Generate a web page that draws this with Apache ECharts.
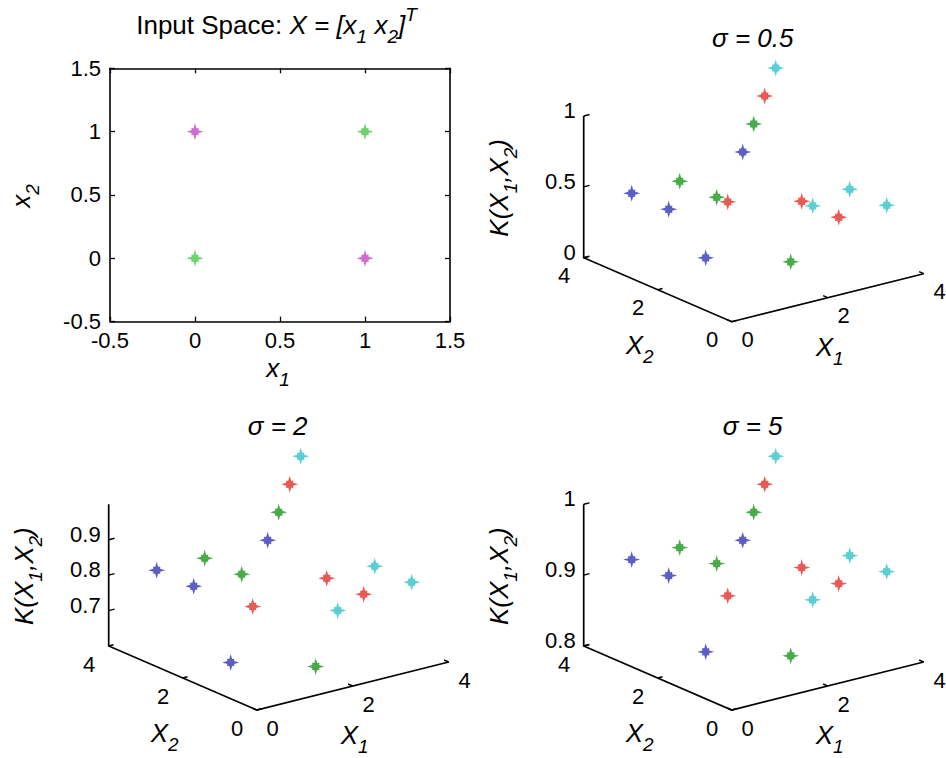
<!DOCTYPE html>
<html>
<head>
<meta charset="utf-8">
<script src="https://cdn.jsdelivr.net/npm/echarts@6/dist/echarts.min.js"></script>
<style>
html,body{margin:0;padding:0;background:#fff;}
#c{width:946px;height:758px;}
</style>
</head>
<body>
<div id="c"></div>
<script>
// ================= DATA =================
// Input space (XOR pattern)
const inputX1 = [0, 1, 0, 1];
const inputX2 = [0, 1, 1, 0];
const inputClass = ['A', 'A', 'B', 'B'];

// Kernel matrix plots: point (i, j, K[i][j]); colour by row i
const kernelX1 = [1, 2, 3, 4];
const kernelX2 = [1, 2, 3, 4];
const kSigma05 = [
  [1.00, 0.14, 0.37, 0.37],
  [0.14, 1.00, 0.37, 0.37],
  [0.37, 0.37, 1.00, 0.14],
  [0.37, 0.37, 0.14, 1.00]
];
const kSigma2 = [
  [1.00, 0.61, 0.78, 0.78],
  [0.61, 1.00, 0.78, 0.78],
  [0.78, 0.78, 1.00, 0.61],
  [0.78, 0.78, 0.61, 1.00]
];
const kSigma5 = [
  [1.00, 0.82, 0.905, 0.905],
  [0.82, 1.00, 0.905, 0.905],
  [0.905, 0.905, 1.00, 0.82],
  [0.905, 0.905, 0.82, 1.00]
];
const sigmaLabels = ['0.5', '2', '5'];
const zLim05 = [0, 1], zLim2 = [0.6, 1], zLim5 = [0.8, 1];
const zTicks05 = [0, 0.5, 1], zTicks2 = [0.7, 0.8, 0.9], zTicks5 = [0.8, 0.9, 1];
const floorLim = [0, 4];
const floorTicks = [0, 2, 4];

// ================= STYLE / LAYOUT =================
const FONT = 'Liberation Sans';
const TICK_FS = 22, LABEL_FS = 26;
const ROW_COLORS = ['#3436b6', '#1a961c', '#e6302a', '#30c2c8'];
const CLASS_COLORS = { A: '#48c848', B: '#c248c2' };
const VIEW = { e1: [192, 48], e2: [-148, 64], ez: 141.7 }; // orthographic view basis (px)
const CORNERS = [[731.7, 321.7], [256.7, 710], [731.7, 710]];
const UBOX = [-160, 200], VBOX = [0, 260];
const SUB_DY = 0.44, SUP_DY = -0.40;

const panels = [
  { sigma: sigmaLabels[0], K: kSigma05, zLim: zLim05, zTicks: zTicks05 },
  { sigma: sigmaLabels[1], K: kSigma2, zLim: zLim2, zTicks: zTicks2 },
  { sigma: sigmaLabels[2], K: kSigma5, zLim: zLim5, zTicks: zTicks5 }
];

function starPath() {
  const pts = [];
  for (let k = 0; k < 16; k++) {
    const ang = k * Math.PI / 8 - Math.PI / 2;
    const r = (k % 4 === 0) ? 10 : (k % 4 === 2 ? 6.0 : 4.4);
    pts.push((r * Math.cos(ang)).toFixed(2) + ',' + (r * Math.sin(ang)).toFixed(2));
  }
  return 'path://M' + pts.join(' L') + ' Z';
}
const STAR = starPath();
const SYM = 17;

const measureCtx = document.createElement('canvas').getContext('2d');
function mathLabel(segs, cx, cy, rot, M) {
  M = M || LABEL_FS;
  const S = Math.round(M * 0.72);
  let x = 0;
  const kids = segs.map(function (sg) {
    const t = sg[0], kind = sg[1];
    const isSub = kind === 's', isSup = kind === 'p';
    const size = (isSub || isSup) ? S : M;
    const italic = kind !== 'n';
    measureCtx.font = (italic ? 'italic ' : '') + size + 'px "' + FONT + '"';
    const w = measureCtx.measureText(t).width;
    const el = {
      type: 'text', x: x, y: isSub ? SUB_DY * M : (isSup ? SUP_DY * M : 0),
      style: {
        text: t, fontSize: size, fontFamily: FONT, fontStyle: italic ? 'italic' : 'normal',
        fill: '#000', align: 'left', textAlign: 'left', verticalAlign: 'middle', textVerticalAlign: 'middle'
      }
    };
    x += w;
    return el;
  });
  kids.forEach(function (k) { k.x -= x / 2; });
  return { type: 'group', x: cx, y: cy, rotation: rot || 0, silent: true, children: kids };
}

function plainText(t, x, y, align) {
  return {
    type: 'text', x: x, y: y, silent: true,
    style: {
      text: t, fontSize: TICK_FS, fontFamily: FONT, fill: '#000',
      align: align || 'center', textAlign: align || 'center',
      verticalAlign: 'middle', textVerticalAlign: 'middle'
    }
  };
}

function project(p, x1, x2, k) {
  const a = (x1 - floorLim[0]) / (floorLim[1] - floorLim[0]);
  const b = (x2 - floorLim[0]) / (floorLim[1] - floorLim[0]);
  const c = (k - p.zLim[0]) / (p.zLim[1] - p.zLim[0]);
  return [a * VIEW.e1[0] + b * VIEW.e2[0], a * VIEW.e1[1] + b * VIEW.e2[1] + c * VIEW.ez];
}

function unitScreen(v) {
  const L = Math.hypot(v[0], v[1]);
  return [v[0] / L, -v[1] / L];
}
const D1 = unitScreen(VIEW.e1), D2 = unitScreen(VIEW.e2);

function frameRenderer(p) {
  return function (params, api) {
    const P = function (x1, x2, k) { return api.coord(project(p, x1, x2, k)); };
    const z0 = p.zLim[0], z1 = p.zLim[1];
    const lo = floorLim[0], hi = floorLim[1];
    const kids = [];
    const line = function (pts, w) {
      kids.push({ type: 'polyline', shape: { points: pts }, style: { stroke: '#000', lineWidth: w || 1.7, fill: null } });
    };
    line([P(lo, hi, z1), P(lo, hi, z0), P(lo, lo, z0), P(hi, lo, z0)]);
    p.zTicks.forEach(function (t) {
      const a = P(lo, hi, t);
      line([a, [a[0] + D1[0] * 6, a[1] + D1[1] * 6]], 1.4);
      kids.push(plainText(String(t), a[0] - 8, a[1] - 5.5, 'right'));
    });
    floorTicks.forEach(function (t) {
      const a = P(t, lo, z0);
      line([a, [a[0] + D2[0] * 5, a[1] + D2[1] * 5]], 1.4);
      kids.push(plainText(String(t), a[0] + 16, a[1] + 18));
      const b = P(lo, t, z0);
      line([b, [b[0] + D1[0] * 5, b[1] + D1[1] * 5]], 1.4);
      kids.push(plainText(String(t), b[0] - 19.5, b[1] + 18));
    });
    const mid = (lo + hi) / 2;
    const m1 = P(mid, lo, z0), m2 = P(lo, mid, z0);
    kids.push(mathLabel([['X', 'i'], ['1', 's']], m1[0] + 2, m1[1] + 49));
    kids.push(mathLabel([['X', 'i'], ['2', 's']], m2[0] - 18, m2[1] + 55));
    const zm = P(lo, hi, (z0 + z1) / 2);
    kids.push(mathLabel([['K(X', 'i'], ['1', 's'], [',X', 'i'], ['2', 's'], [')', 'i']], zm[0] - 85, zm[1] + 1, Math.PI / 2));
    const o = P(lo, lo, z0);
    kids.push(mathLabel([['σ = ' + p.sigma, 'i']], o[0] + 21, o[1] - 284));
    return { type: 'group', children: kids };
  };
}

// ================= OPTION =================
const grids = [{ left: 110, top: 68.3, width: 340, height: 253.3 }];
CORNERS.forEach(function (c) {
  grids.push({ left: c[0] + UBOX[0], top: c[1] - VBOX[1], width: UBOX[1] - UBOX[0], height: VBOX[1] - VBOX[0] });
});

const axStyle = { onZero: false, lineStyle: { color: '#000', width: 1.6 } };
const tickStyle = { inside: true, length: 5, lineStyle: { color: '#000', width: 1.3 } };
const labStyle = { color: '#000', fontSize: TICK_FS, fontFamily: FONT, margin: 8, showMinLabel: true, showMaxLabel: true };

const xAxes = [
  { gridIndex: 0, type: 'value', min: -0.5, max: 1.5, interval: 0.5, position: 'bottom',
    axisLine: axStyle, axisTick: tickStyle, axisLabel: labStyle, splitLine: { show: false } },
  { gridIndex: 0, type: 'value', min: -0.5, max: 1.5, interval: 0.5, position: 'top',
    axisLine: axStyle, axisTick: tickStyle, axisLabel: { show: false }, splitLine: { show: false } }
];
const yAxes = [
  { gridIndex: 0, type: 'value', min: -0.5, max: 1.5, interval: 0.5, position: 'left',
    axisLine: axStyle, axisTick: tickStyle, axisLabel: Object.assign({}, labStyle, { margin: 9 }), splitLine: { show: false } },
  { gridIndex: 0, type: 'value', min: -0.5, max: 1.5, interval: 0.5, position: 'right',
    axisLine: axStyle, axisTick: tickStyle, axisLabel: { show: false }, splitLine: { show: false } }
];
const series = [{
  type: 'scatter', xAxisIndex: 0, yAxisIndex: 0, symbol: STAR, symbolSize: SYM, silent: true, z: 3,
  data: inputX1.map(function (x, i) {
    return { value: [x, inputX2[i]], itemStyle: { color: CLASS_COLORS[inputClass[i]] } };
  })
}];

panels.forEach(function (p, idx) {
  const g = idx + 1;
  xAxes.push({ gridIndex: g, type: 'value', min: UBOX[0], max: UBOX[1], show: false });
  yAxes.push({ gridIndex: g, type: 'value', min: VBOX[0], max: VBOX[1], show: false });
  const ax = xAxes.length - 1, ay = yAxes.length - 1;
  series.push({
    type: 'custom', xAxisIndex: ax, yAxisIndex: ay, silent: true, z: 1, clip: false,
    data: [[0, 0]], renderItem: frameRenderer(p)
  });
  const pts = [];
  kernelX1.forEach(function (x1, i) {
    kernelX2.forEach(function (x2, j) {
      pts.push({ value: project(p, x1, x2, p.K[i][j]), itemStyle: { color: ROW_COLORS[i] } });
    });
  });
  series.push({
    type: 'scatter', xAxisIndex: ax, yAxisIndex: ay, symbol: STAR, symbolSize: SYM, silent: true, z: 3,
    data: pts
  });
});

const option = {
  animation: false,
  backgroundColor: '#fff',
  grid: grids,
  xAxis: xAxes,
  yAxis: yAxes,
  series: series,
  graphic: { elements: [
    mathLabel([['Input Space: ', 'n'], ['X = [x', 'i'], ['1', 's'], [' x', 'i'], ['2', 's'], [']', 'i'], ['T', 'p']], 276.5, 25),
    mathLabel([['x', 'i'], ['1', 's']], 278, 368),
    mathLabel([['x', 'i'], ['2', 's']], 21, 196, Math.PI / 2)
  ] }
};

const chart = echarts.init(document.getElementById('c'), null, { renderer: 'svg' });
chart.setOption(option);
</script>
</body>
</html>
